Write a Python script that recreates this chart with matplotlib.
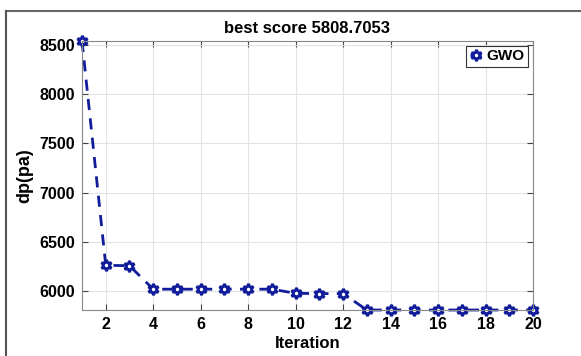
import matplotlib.pyplot as plt
from matplotlib.lines import Line2D

# convergence curve data
iterations = list(range(1, 21))
best_dp = [8538, 6262, 6258, 6020, 6020, 6020, 6020, 6020, 6020, 5978,
           5975, 5975, 5808.7, 5808.7, 5808.7, 5808.7, 5808.7, 5808.7, 5808.7, 5808.7]
series_name = 'GWO'
title_text = 'best score 5808.7053'
xticks = list(range(2, 21, 2))
yticks = list(range(6000, 8501, 500))

plt.rcParams['font.family'] = ['Liberation Sans Narrow', 'Liberation Sans', 'DejaVu Sans']
plt.rcParams['font.weight'] = 'bold'

fig = plt.figure(figsize=(5.81, 3.56), dpi=100)
# frame of the original screenshot (top and left edges only)
x0, y0 = 6 / 581, 1 - 11 / 356
fig.add_artist(Line2D([x0, 1], [y0, y0], transform=fig.transFigure, color='#666666', linewidth=1.5))
fig.add_artist(Line2D([x0, x0], [0, y0], transform=fig.transFigure, color='#555555', linewidth=1.5))

ax = fig.add_axes([82 / 581, 1 - 310 / 356, (533 - 82) / 581, (310 - 41) / 356])

col = '#101c9a'
ax.plot(iterations, best_dp, linestyle='--', color=col, linewidth=2, dashes=(4, 3),
        marker=(6, 1, 0), markersize=8, markerfacecolor='white', markeredgecolor=col,
        markeredgewidth=2, label=series_name, clip_on=False)

ax.set_xlim(1, 20)
ax.set_ylim(5808.7, 8538)
ax.set_xticks(xticks)
ax.set_yticks(yticks)
ax.grid(True, color='#e3e3e3', linewidth=0.8)
ax.set_axisbelow(True)
ax.tick_params(direction='in', top=True, right=True, length=4, labelsize=11.5,
               color='#444444', pad=5)
for s in ax.spines.values():
    s.set_color('#888888')
    s.set_linewidth(0.8)

ax.set_title(title_text, fontsize=12, fontweight='bold', pad=6)
ax.set_xlabel('Iteration', fontsize=12, fontweight='bold', labelpad=3)
ax.set_ylabel('dp(pa)', fontsize=13, fontweight='bold', labelpad=4)

leg = ax.legend(loc='upper right', fontsize=11, handlelength=0.8, handletextpad=0.3,
                borderpad=0.25, fancybox=False, framealpha=1, borderaxespad=0.3)
leg.get_frame().set_edgecolor('#333333')
leg.get_frame().set_linewidth(0.8)

fig.savefig('out.png', dpi=100)
